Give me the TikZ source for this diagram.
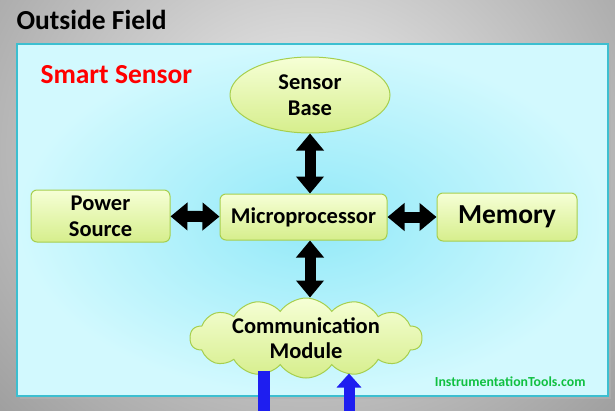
\documentclass[tikz,border=0pt]{standalone}
\usepackage{xcolor}
\usepackage{fontspec}
\setmainfont{Carlito}
\usepackage{tikz}
\usetikzlibrary{arrows.meta,positioning,calc,shapes.geometric,shapes.symbols}

\definecolor{boxedge}{HTML}{A6CF4E}
\definecolor{boxtop}{HTML}{F6FFD6}
\definecolor{boxbot}{HTML}{D6EE8C}
\definecolor{panel}{HTML}{92E9F8}
\definecolor{panelrim}{HTML}{D2F9FE}
\definecolor{paneledge}{HTML}{3CBFD0}
\definecolor{sigblue}{HTML}{1E1EF0}
\definecolor{webgreen}{HTML}{10C040}

\tikzset{
  block/.style={draw=boxedge, line width=1pt, rounded corners=6pt, top color=boxtop, bottom color=boxbot,
    font=\bfseries\fontsize{22.5}{26}\selectfont, align=center, inner sep=0pt},
  dblarrow/.style={line width=11pt, {Triangle[width=27pt,length=17pt]}-{Triangle[width=27pt,length=17pt]}},
  sigarrow/.style={sigblue, line width=11pt, -{Triangle[width=24pt,length=14pt]}}
}

\begin{document}
\begin{tikzpicture}[x=1pt,y=-1pt]
\useasboundingbox (0,0) rectangle (615,410);
\shade[inner color=gray!12, outer color=gray!80] (-150,-260) rectangle (765,560);
\fill[gray!60, opacity=0.6] (20,47) rectangle (611,399);
\draw[paneledge, line width=1.5pt, inner color=panel, outer color=panelrim] (17,44) rectangle (608,396);

\node[anchor=west, font=\bfseries\fontsize{27.5}{32}\selectfont] (field) at (13,20) {Outside Field};
\node[anchor=west, red, font=\bfseries\fontsize{27.5}{32}\selectfont] (smart) at (37,75) {Smart Sensor};

\node[block, minimum width=167pt, minimum height=46pt] (micro) at (303.5,217) {Microprocessor};
\node[block, ellipse, rounded corners=0pt, minimum width=160pt, minimum height=76pt] (base) at (310,95) {Sensor\\Base};
\node[block, minimum width=139pt, minimum height=52pt] (power) at (100.5,216) {Power\\Source};
\node[block, minimum width=140pt, minimum height=48pt, font=\bfseries\fontsize{27.5}{32}\selectfont] (memory) at (507,217) {Memory};
\node[block, cloud, rounded corners=0pt, cloud puffs=14, cloud puff arc=110, aspect=2.9,
  minimum width=232pt, minimum height=80pt] (comm) at (306,338) {};
\node[align=center, font=\bfseries\fontsize{22.5}{25}\selectfont] (commtext) at (comm.center) {Communication\\Module};

\draw[dblarrow] (base.south) -- (base.south |- micro.north);
\draw[dblarrow] (power) -- (micro);
\draw[dblarrow] (micro) -- (memory);
\draw[dblarrow] (micro.south -| base.south) -- (comm.north -| base.south);

\coordinate (txout) at (264,412);
\coordinate (rxin) at (349,412);
\draw[sigblue, line width=12pt] ($(comm.south -| txout)+(0,-8)$) -- (txout);
\draw[sigarrow] (rxin) -- ($(rxin |- comm.south)+(0,-5)$);

\node[anchor=east, webgreen, font=\bfseries\fontsize{13.8}{16}\selectfont] (site) at (589,382) {InstrumentationTools.com};
\end{tikzpicture}
\end{document}
